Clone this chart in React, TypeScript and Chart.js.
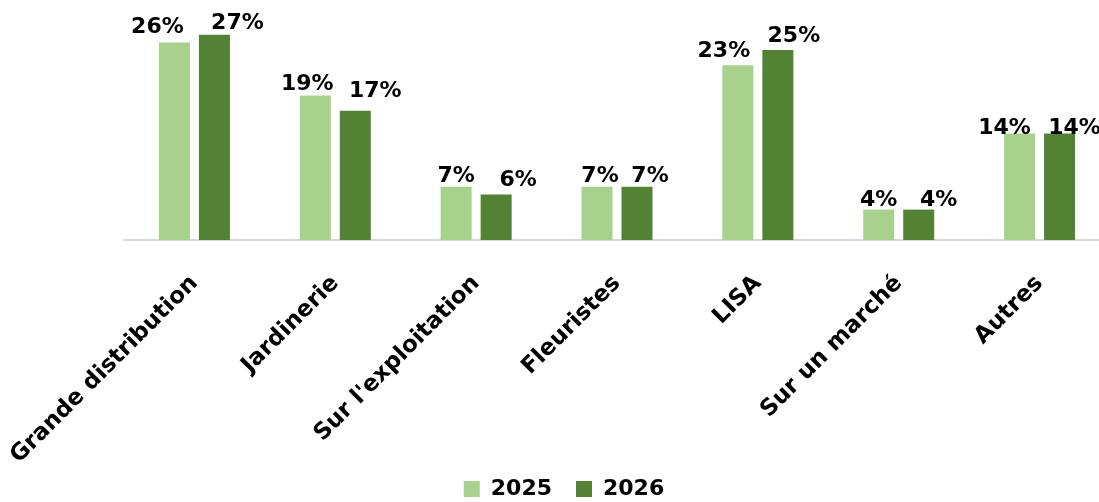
import React, { useEffect, useRef } from "react";
import { Chart, registerables } from "chart.js";

Chart.register(...registerables);

const categories = [
  "Grande distribution",
  "Jardinerie",
  "Sur l'exploitation",
  "Fleuristes",
  "LISA",
  "Sur un marché",
  "Autres",
];
const series2025 = [26, 19, 7, 7, 23, 4, 14];
const series2026 = [27, 17, 6, 7, 25, 4, 14];
const seriesNames = ["2025", "2026"];

// label placement tweaks (relative to each bar), as in the reference
const labelDx = [
  [-17, -8, 0, 3, -14, 0, -15],
  [23, 20, 22, 13, 16, 20, 15],
];
const labelGap = [
  [9, 6, 5, 5, 8, 4, 0],
  [6, 14, 8, 5, 8, 4, 0],
];

const FONT = "'DejaVu Sans', sans-serif";

const valueLabels = {
  id: "valueLabels",
  afterDatasetsDraw(chart: any) {
    const ctx = chart.ctx;
    ctx.save();
    ctx.font = `bold 22px ${FONT}`;
    ctx.fillStyle = "#000000";
    ctx.textAlign = "center";
    ctx.textBaseline = "alphabetic";
    chart.data.datasets.forEach((ds: any, di: number) => {
      const meta = chart.getDatasetMeta(di);
      meta.data.forEach((el: any, i: number) => {
        const v = ds.data[i];
        ctx.fillText(`${v}%`, el.x + labelDx[di][i], el.y - labelGap[di][i]);
      });
    });
    ctx.restore();
  },
};

export default function App() {
  const ref = useRef<HTMLCanvasElement | null>(null);
  useEffect(() => {
    if (!ref.current) return;
    const chart = new Chart(ref.current, {
      type: "bar",
      data: {
        labels: categories,
        datasets: [
          {
            label: seriesNames[0],
            data: series2025,
            backgroundColor: "#A9D18E",
            barPercentage: 0.775,
            categoryPercentage: 0.568,
          },
          {
            label: seriesNames[1],
            data: series2026,
            backgroundColor: "#548235",
            barPercentage: 0.775,
            categoryPercentage: 0.568,
          },
        ],
      },
      options: {
        animation: false,
        responsive: false,
        layout: { padding: { top: 12, left: 0, right: 0, bottom: 0 } },
        plugins: {
          legend: {
            position: "bottom",
            labels: {
              boxWidth: 16,
              boxHeight: 16,
              padding: 24,
              color: "#000000",
              font: { family: FONT, size: 22, weight: "bold" },
            },
          },
          tooltip: { enabled: false },
        },
        scales: {
          x: {
            grid: { display: false },
            border: { display: true, color: "#D9D9D9", width: 2 },
            ticks: {
              maxRotation: 45,
              minRotation: 45,
              autoSkip: false,
              padding: 22,
              color: "#000000",
              font: { family: FONT, size: 23, weight: "bold" },
            },
            afterFit: (s: any) => {
              s.height = 214;
              s.paddingLeft = 0;
              s.paddingRight = 0;
              s._computeLabelArea = () => undefined;
            },
          },
          y: {
            position: "left",
            min: 0,
            max: 30,
            grid: { display: false },
            border: { display: false },
            ticks: { display: false },
            afterFit: (s: any) => {
              s.width = 124;
            },
          },
          y2: {
            position: "right",
            min: 0,
            max: 30,
            grid: { display: false },
            border: { display: false },
            ticks: { display: false },
            afterFit: (s: any) => {
              s.width = 18;
            },
          },
        },
      },
      plugins: [valueLabels],
    });
    return () => chart.destroy();
  }, []);
  return (
    <div
      style={{
        position: "fixed",
        left: 0,
        top: 0,
        width: 1099,
        height: 502,
        overflow: "hidden",
        background: "#ffffff",
      }}
    >
      <canvas ref={ref} width={1128} height={510} style={{ display: "block" }} />
    </div>
  );
}
